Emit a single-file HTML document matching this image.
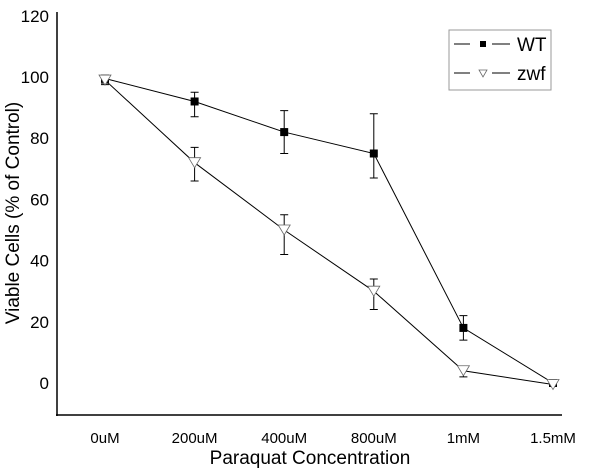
<!DOCTYPE html>
<html><head><meta charset="utf-8"><style>
body{margin:0;background:#fff}
svg{display:block;font-family:"Liberation Sans",Arial,sans-serif}
</style></head><body>
<svg id="chart" width="600" height="468" viewBox="0 0 600 468">
<rect width="600" height="468" fill="#fff"/>
<g id="axes"></g>
<g id="series"></g>
<g id="legend">
<rect x="449" y="30" width="102" height="60" fill="#fff" stroke="#999" stroke-width="1"/>
<g>
<line x1="454" y1="44" x2="470" y2="44" stroke="#000"/><rect x="480" y="41" width="6" height="6" fill="#000"/><line x1="492" y1="44" x2="510" y2="44" stroke="#000"/>
<text x="517" y="51" font-size="19">WT</text></g>
<g>
<line x1="454" y1="73" x2="470" y2="73" stroke="#000"/><path d="M479,70 L487,70 L483,77 Z" fill="#fff" stroke="#666" stroke-width="0.8"/><line x1="492" y1="73" x2="510" y2="73" stroke="#000"/>
<text x="517" y="80" font-size="19">zwf</text></g>
</g>
</svg>
<script>
const categories=["0uM","200uM","400uM","800uM","1mM","1.5mM"];
const wtValues=[99.5,92,82,75,18,0];
const wtLow=[98,87,75,67,14,-0.5];
const wtHigh=[100.5,95,89,88,22,0.5];
const zwfValues=[99,72,50,30,4,-0.5];
const zwfLow=[97.5,66,42,24,2,-1];
const zwfHigh=[100,77,55,34,5,0];
const yTicks=[0,20,40,60,80,100,120];
const NS="http://www.w3.org/2000/svg";
const xS=i=>105+i*89.6;
const yS=v=>383-v*3.06;
function mk(t,a,p){const e=document.createElementNS(NS,t);for(const k in a)e.setAttribute(k,a[k]);p.appendChild(e);return e;}
const ax=document.getElementById('axes');
let yl=mk('line',{x1:57,y1:12,x2:57,y2:416,stroke:'#000','stroke-width':1.5},ax);


let xl=mk('line',{x1:56,y1:415,x2:562,y2:415,stroke:'#000','stroke-width':1.5},ax);


yTicks.forEach(v=>{const t=mk('text',{x:49,y:yS(v)+6,'text-anchor':'end','font-size':17},ax);t.textContent=v;

});
categories.forEach((c,i)=>{const t=mk('text',{x:xS(i),y:443,'text-anchor':'middle','font-size':15},ax);t.textContent=c;

});
let xt=mk('text',{x:310,y:464,'text-anchor':'middle','font-size':19},ax);xt.textContent="Paraquat Concentration";


let yt=mk('text',{x:0,y:0,'text-anchor':'middle','font-size':19,transform:'translate(19,213) rotate(-90)'},ax);yt.textContent="Viable Cells (% of Control)";


const sg=document.getElementById('series');
function series(vals,lo,hi,name,marker){
 const g=mk('g',{},sg);
 
 
 const l=mk('polyline',{points:vals.map((v,i)=>xS(i)+','+yS(v)).join(' '),fill:'none',stroke:'#000','stroke-width':1},g);
 
 
 vals.forEach((v,i)=>{const x=xS(i);
  const e=mk('path',{d:`M${x},${yS(lo[i])}V${yS(hi[i])}M${x-4},${yS(lo[i])}H${x+4}M${x-4},${yS(hi[i])}H${x+4}`,stroke:'#000',fill:'none','stroke-width':1},g);
  
  
  let m;
  if(marker==='sq'){m=mk('rect',{x:x-4,y:yS(v)-4,width:8,height:8,fill:'#000'},g);}
  else{const y=yS(v);m=mk('path',{d:`M${x-6},${y-5}L${x+6},${y-5}L${x},${y+5}Z`,fill:'#fff',stroke:'#666','stroke-width':0.8},g);}
  
  
 });
}
series(wtValues,wtLow,wtHigh,'wt','sq');
series(zwfValues,zwfLow,zwfHigh,'zwf','tri');
</script>
</body></html>
